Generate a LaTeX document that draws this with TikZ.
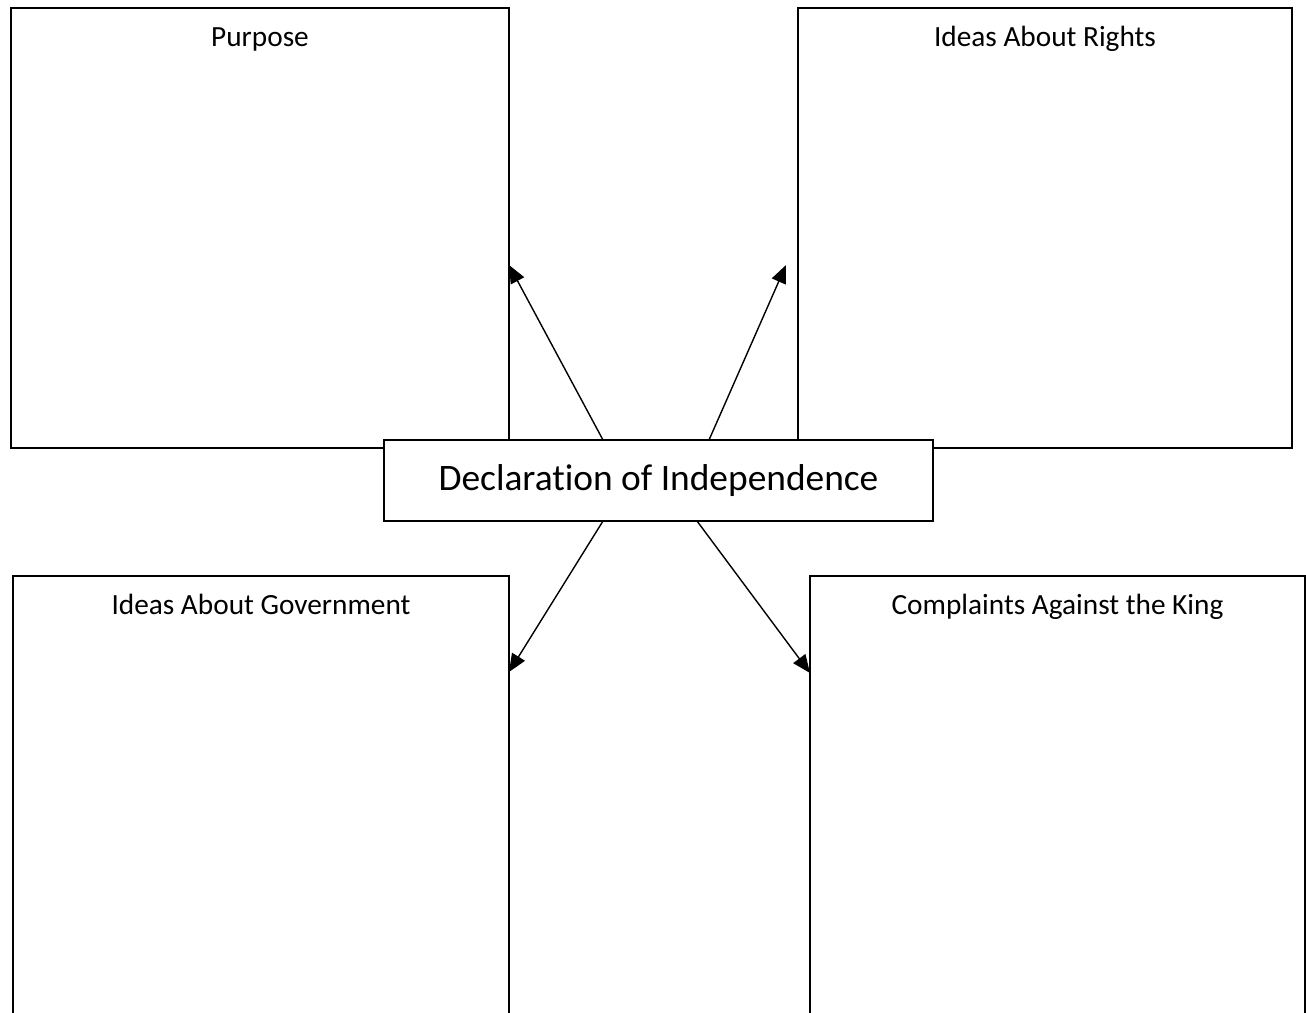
\documentclass[tikz,border=0pt]{standalone}
\usepackage{fontspec}
\setmainfont[Ligatures=NoCommon]{Carlito}
\usetikzlibrary{calc,positioning,arrows.meta}

\begin{document}
\begin{tikzpicture}[x = 1pt, y = -1pt,
  box/.style={draw, line width = 1.6pt, inner sep = 0pt, outer sep = 0pt, anchor = north west},
  ttl/.style={font=\fontsize{29.3}{35}\selectfont, anchor = base},
  arr/.style={line width = 1.4pt, -{Triangle[length = 18pt, width = 15pt]}}]
\clip (0,0) rectangle (1306,1012);
\foreach \n/\x/\y/\w/\h/\t in {purpose/11/8/498/440/Purpose, rights/798/8/494/440/Ideas About Rights, govt/13/576/496/460/Ideas About Government, king/810/576/495/460/Complaints Against the King}{
  \node[box, minimum width = \w, minimum height = \h] (\n) at (\x,\y) {};
  \node[ttl] (\n-t) at ($(\n.north)+(0,38)$) {\t};
}
\node[box, fill = white, minimum width = 549, minimum height = 81, font=\fontsize{37.4}{45}\selectfont] (decl) at (384,440) {\raisebox{2pt}{Declarat\kern0pt ion of Independence}};
\draw[arr] ($(decl.north west)+(219,0)$) -- ($(purpose.north east)+(0,257)$);
\draw[arr] ($(decl.north west)+(325,0)$) -- ($(rights.north west)+(-12,257)$);
\draw[arr] ($(decl.south west)+(219,0)$) -- ($(govt.north east)+(0,96)$);
\draw[arr] ($(decl.south west)+(313,0)$) -- ($(king.north west)+(0,97)$);
\end{tikzpicture}
\end{document}
